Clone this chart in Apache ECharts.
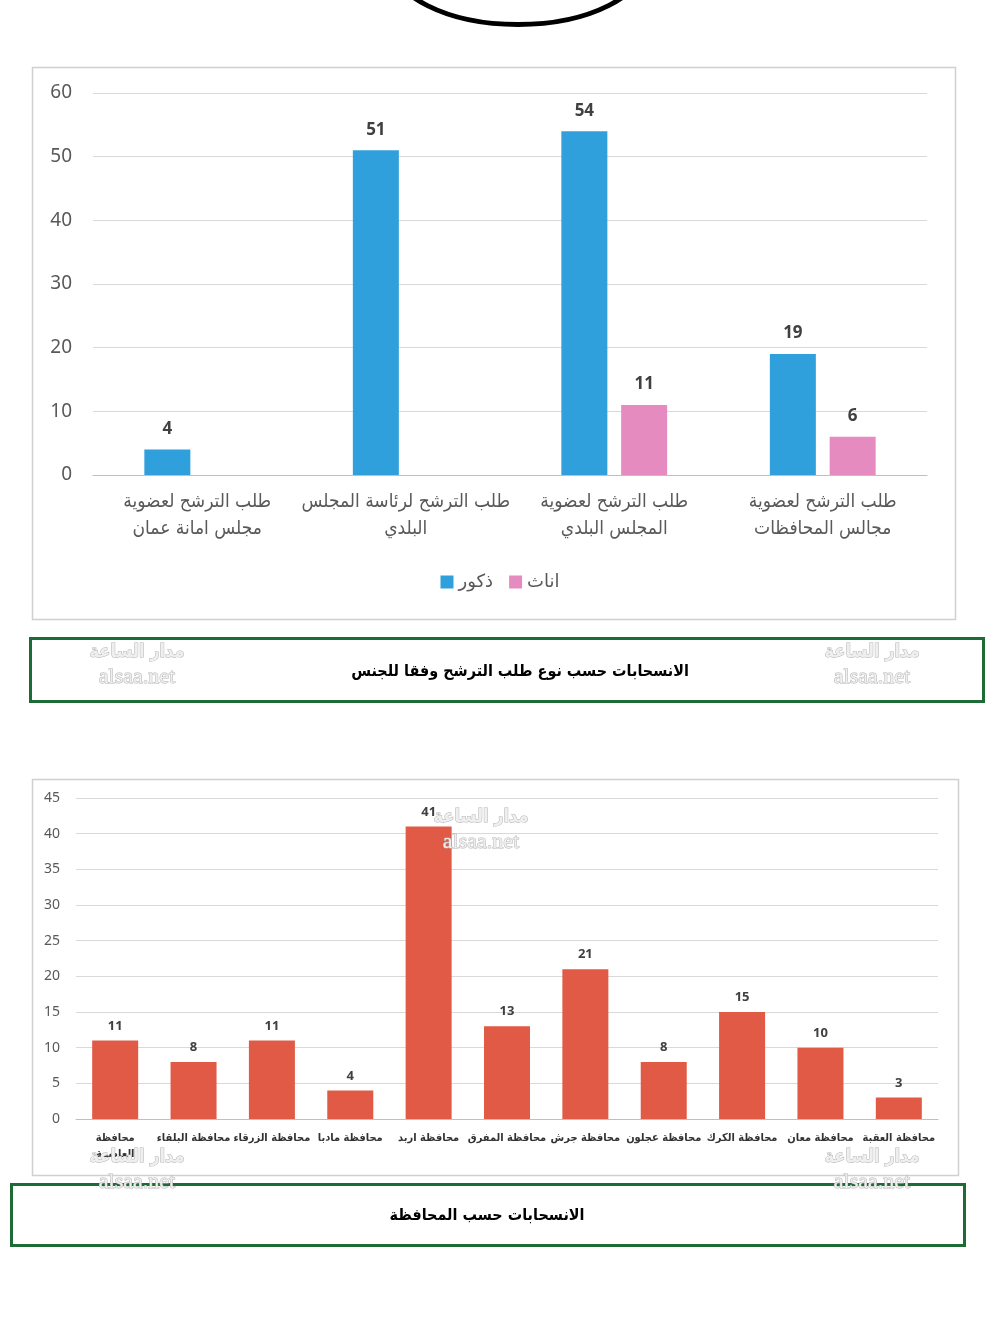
<!DOCTYPE html>
<html><head><meta charset="utf-8">
<script src="https://cdn.jsdelivr.net/npm/echarts@6/dist/echarts.min.js"></script>
<style>html,body{margin:0;padding:0;background:#fff}#c{width:1000px;height:1337px}</style>
</head><body><div id="c"></div>
<script>
// Chart 1 data
const cat1 = ['طلب الترشح لعضوية\nمجلس امانة عمان','طلب الترشح لرئاسة المجلس\nالبلدي','طلب الترشح لعضوية\nالمجلس البلدي','طلب الترشح لعضوية\nمجالس المحافظات'];
const seriesNames1 = ['ذكور','اناث'];
const male = [4, 51, 54, 19];
const female = [null, null, 11, 6];
const title1 = 'الانسحابات حسب نوع طلب الترشح وفقا للجنس';
// Chart 2 data
const cat2 = ['محافظة\nالعاصمة','محافظة البلقاء','محافظة الزرقاء','محافظة مادبا','محافظة اربد','محافظة المفرق','محافظة جرش','محافظة عجلون','محافظة الكرك','محافظة معان','محافظة العقبة'];
const withdrawals = [11, 8, 11, 4, 41, 13, 21, 8, 15, 10, 3];
const title2 = 'الانسحابات حسب المحافظة';
const wm1 = 'مدار الساعة', wm2 = 'alsaa.net';

const FONT = '"Noto Sans","DejaVu Sans",sans-serif';
const COND = '"DejaVu Sans Condensed","DejaVu Sans",sans-serif';
const chart = echarts.init(document.getElementById('c'), null, {renderer:'canvas'});

function wmPlain(cx, y){
  return [
    {type:'text', x:cx, y:y, z:100, style:{text:wm1, font:'bold 18px ' + COND, fill:'#efefef', stroke:'#b4b4b4', lineWidth:1, align:'center', verticalAlign:'middle'}},
    {type:'text', x:cx, y:y+25, z:100, style:{text:wm2, font:'22px "Liberation Serif",serif', fill:'#efefef', stroke:'#b4b4b4', lineWidth:1, align:'center', verticalAlign:'middle'}}
  ];
}

const option = {
  backgroundColor:'#ffffff',
  animation:false,
  textStyle:{fontFamily:FONT},
  legend:{
    data:seriesNames1, left:'center', top:568, itemWidth:13, itemHeight:13, itemGap:16,
    icon:'rect', textStyle:{fontSize:18, color:'#595959', fontFamily:FONT}
  },
  grid:[
    {left:93, right:73, top:93, bottom:862},
    {left:76, right:62, top:798, bottom:218}
  ],
  xAxis:[
    {type:'category', gridIndex:0, data:cat1,
     axisLine:{lineStyle:{color:'#bfbfbf'}}, axisTick:{show:false},
     axisLabel:{interval:0, fontSize:19, lineHeight:27, color:'#595959', margin:14, fontFamily:COND}},
    {type:'category', gridIndex:1, data:cat2,
     axisLine:{lineStyle:{color:'#bfbfbf'}}, axisTick:{show:false},
     axisLabel:{interval:0, fontSize:11, fontWeight:'bold', lineHeight:16, color:'#333333', margin:11, fontFamily:COND}}
  ],
  yAxis:[
    {type:'value', gridIndex:0, min:0, max:60, interval:10,
     axisLine:{show:false}, axisTick:{show:false},
     splitLine:{lineStyle:{color:'#d9d9d9'}},
     axisLabel:{fontSize:19, color:'#595959', margin:21, fontFamily:FONT}},
    {type:'value', gridIndex:1, min:0, max:45, interval:5,
     axisLine:{show:false}, axisTick:{show:false},
     splitLine:{lineStyle:{color:'#d9d9d9'}},
     axisLabel:{fontSize:14, color:'#595959', margin:16, fontFamily:FONT}}
  ],
  series:[
    {name:seriesNames1[0], type:'bar', xAxisIndex:0, yAxisIndex:0, data:male, barWidth:46, barGap:'30%',
     itemStyle:{color:'#2fa0dc'},
     label:{show:true, position:'top', distance:12, fontSize:17, fontWeight:'bold', color:'#404040', fontFamily:FONT}},
    {name:seriesNames1[1], type:'bar', xAxisIndex:0, yAxisIndex:0, data:female, barWidth:46, barGap:'30%',
     itemStyle:{color:'#e68bbf'},
     label:{show:true, position:'top', distance:12, fontSize:17, fontWeight:'bold', color:'#404040', fontFamily:FONT}},
    {name:'withdrawals', type:'bar', xAxisIndex:1, yAxisIndex:1, data:withdrawals, barWidth:46,
     itemStyle:{color:'#e05a46'},
     label:{show:true, position:'top', distance:8, fontSize:13, fontWeight:'bold', color:'#404040', fontFamily:FONT}}
  ],
  graphic:[
    {type:'ellipse', shape:{cx:518, cy:-40, rx:128, ry:64.5}, style:{fill:'none', stroke:'#000', lineWidth:5}, z:10},
    {type:'rect', shape:{x:32.5, y:67.5, width:923, height:552}, style:{fill:'none', stroke:'#d0d0d0', lineWidth:1.5}, z:-1},
    {type:'rect', shape:{x:30.5, y:638.5, width:953, height:63}, style:{fill:'#fff', stroke:'#1f6b36', lineWidth:3}},
    {type:'text', x:520, y:672, style:{text:title1, font:'bold 16px ' + COND, fill:'#000', align:'center', verticalAlign:'middle'}},
    {type:'rect', shape:{x:32.5, y:779.5, width:926, height:396}, style:{fill:'none', stroke:'#d0d0d0', lineWidth:1.5}, z:-1},
    {type:'rect', shape:{x:11.5, y:1184.5, width:953, height:61}, style:{fill:'#fff', stroke:'#1f6b36', lineWidth:3}},
    {type:'text', x:487, y:1216, style:{text:title2, font:'bold 16px ' + COND, fill:'#000', align:'center', verticalAlign:'middle'}}
  ].concat(wmPlain(137, 652), wmPlain(872, 652), wmPlain(481, 817), wmPlain(137, 1157), wmPlain(872, 1157))
};
chart.setOption(option);
</script></body></html>
